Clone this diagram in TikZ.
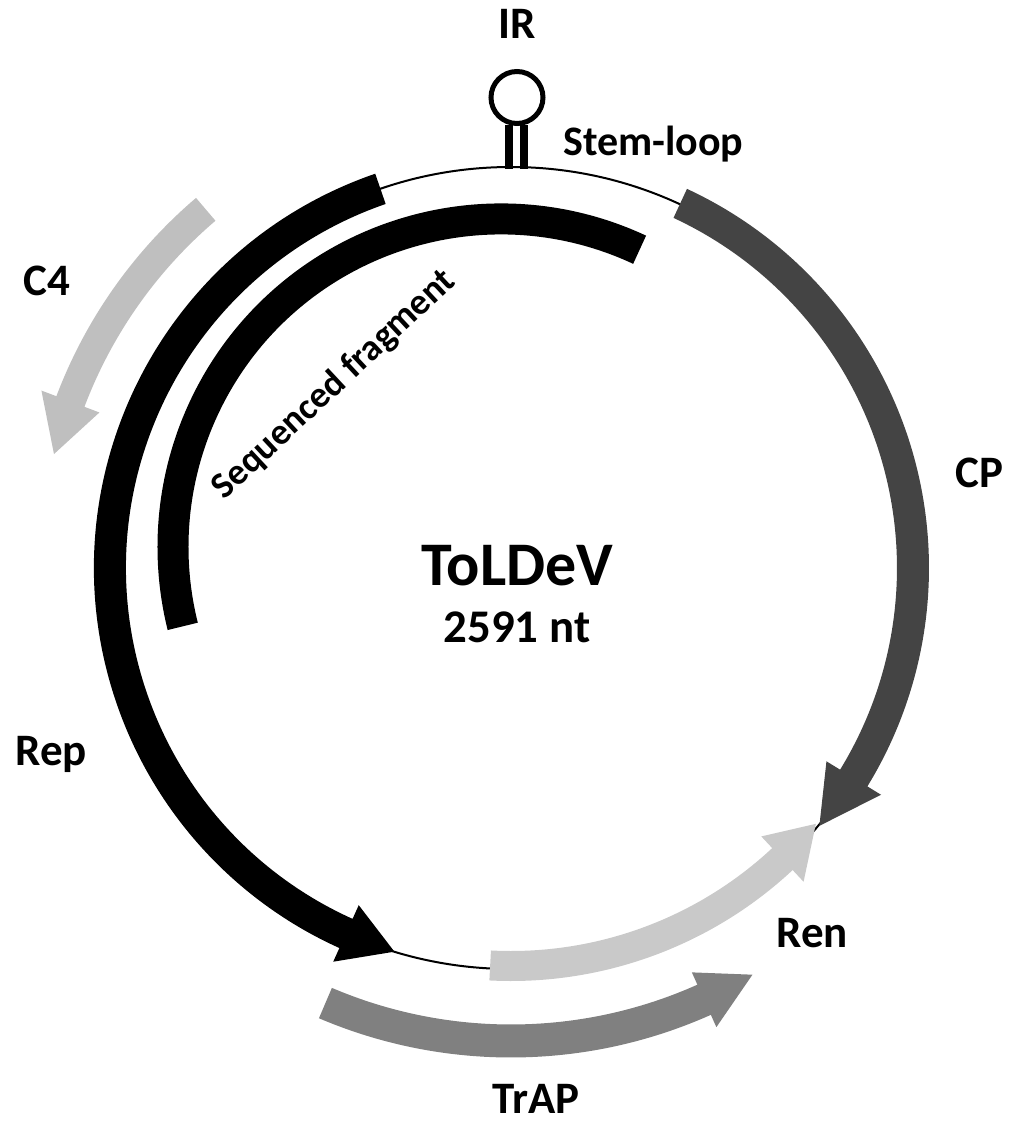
\documentclass[tikz,border=0pt]{standalone}
\usepackage{fontspec}
\setmainfont{Carlito}
\definecolor{cfourcol}{HTML}{BFBFBF}
\definecolor{cpcol}{HTML}{444444}
\definecolor{rencol}{HTML}{C9C9C9}
\definecolor{trapcol}{HTML}{808080}
% #1 colour, #2 radius, #3 band width, #4 start angle, #5 head base angle, #6 tip angle, #7 head half-width
\newcommand\genearrow[7]{%
  \pgfmathsetmacro\gaRo{#2+#3/2}%
  \pgfmathsetmacro\gaRi{#2-#3/2}%
  \pgfmathsetmacro\gaHo{#2+#7}%
  \pgfmathsetmacro\gaHi{#2-#7}%
  \fill[#1] (#4:\gaRo) arc[start angle=#4, end angle=#5, radius=\gaRo]
    -- (#5:\gaHo) -- (#6:#2) -- (#5:\gaHi) -- (#5:\gaRi)
    arc[start angle=#5, end angle=#4, radius=\gaRi] -- cycle;}
\begin{document}
\begin{tikzpicture}[x=0.5pt,y=0.5pt,
  lbl/.style={font=\fontsize{22.5}{27}\selectfont\bfseries, inner sep=0pt}]
\useasboundingbox (-511,-553) rectangle (500,568);
% backbone
\draw[line width=1pt] (0,0) circle[radius=401];
% genes
\genearrow{black}{401}{32}{109}{245.7}{253.1}{31}
\genearrow{cpcol}{402}{32}{65.1}{-31.5}{-39.9}{32}
\genearrow{rencol}{398}{30}{267}{313}{320}{31}
\genearrow{trapcol}{473}{33}{246.9}{294.1}{300.7}{30}
\genearrow{cfourcol}{471}{30}{130.4}{159.3}{166}{31}
% sequenced fragment
\begin{scope}[shift={(-10,21)}]
\draw[line width=15.5pt] (65:328) arc[start angle=65, end angle=194, radius=328];
\end{scope}
% stem-loop
\fill (-6,399) rectangle (2,443);
\fill (9,399) rectangle (17,443);
\draw[line width=2.5pt] (6,470.5) circle[radius=26];
% labels
\node[lbl, anchor=base] (ir) at (6,530) {IR};
\node[font=\fontsize{21}{25}\selectfont\bfseries, inner sep=0pt, anchor=base west] (stem) at (52,413) {Stem-loop};
\node[lbl, anchor=base west] (c4) at (-488,273) {C4};
\node[lbl, anchor=base west] (cp) at (444,81) {CP};
\node[lbl, anchor=base west] (rep) at (-496,-197) {Rep};
\node[lbl, anchor=base west] (ren) at (265,-379) {Ren};
\node[lbl, anchor=base west] (trap) at (-19,-545) {TrAP};
\node[font=\fontsize{31}{36}\selectfont\bfseries, inner sep=0pt, anchor=base] (name) at (6.5,-17) {ToLDeV};
\node[font=\fontsize{23.4}{28}\selectfont\bfseries, inner sep=0pt, anchor=base] (len) at (6,-74) {2591 nt};
\node[font=\fontsize{18.5}{22}\selectfont\bfseries, inner sep=0pt, anchor=base, rotate=43] (frag) at (-170,176) {Sequenced fragment};
\end{tikzpicture}
\end{document}
